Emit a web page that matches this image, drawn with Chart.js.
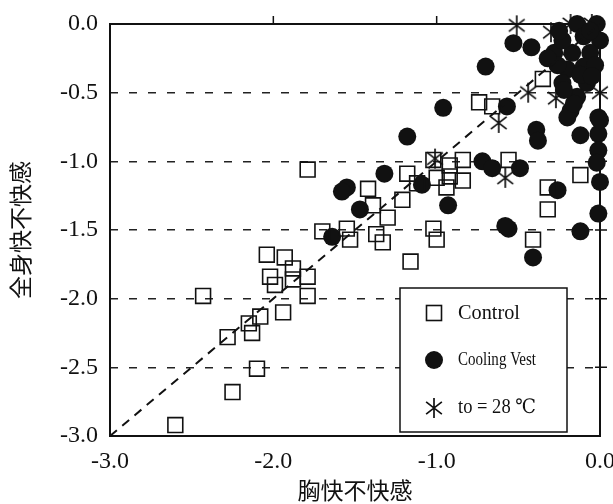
<!DOCTYPE html>
<html lang="ja">
<head>
<meta charset="UTF-8">
<title>胸快不快感と全身快不快感</title>
<script src="https://cdn.jsdelivr.net/npm/chart.js"></script>
<style>
  body { margin: 0; background: #fff; }
</style>
</head>
<body>
<canvas id="chart" width="613" height="504"></canvas>
<script>
// Control (open squares)
const controlX = [-2.60, -2.43, -2.25, -2.10, -2.28, -2.13, -2.15, -2.08, -1.94, -2.04,
                  -1.93, -1.88, -2.02, -1.99, -1.79, -1.79, -1.88, -1.79, -1.42, -1.18,
                  -1.02, -1.00, -1.21, -1.39, -1.30, -1.55, -1.70, -1.53, -1.37, -1.33,
                  -1.02, -1.00, -1.16, -0.94, -0.74, -0.66, -0.92, -0.84, -0.92, -0.84,
                  -0.56, -0.32, -0.32, -0.12, -0.41, -0.35, -1.12];
const controlY = [-2.92, -1.98, -2.68, -2.51, -2.28, -2.25, -2.18, -2.13, -2.10, -1.68,
                  -1.70, -1.78, -1.84, -1.90, -1.84, -1.98, -1.86, -1.06, -1.20, -1.09,
                  -0.99, -1.12, -1.28, -1.32, -1.41, -1.49, -1.51, -1.57, -1.53, -1.59,
                  -1.49, -1.57, -1.73, -1.19, -0.57, -0.60, -1.03, -0.99, -1.11, -1.14,
                  -0.99, -1.19, -1.35, -1.10, -1.57, -0.40, -1.16];

// Cooling Vest (filled circles)
const vestX = [-1.32, -1.55, -1.58, -1.47, -1.64, -1.09, -0.93, -1.18, -0.70, -0.96,
               -0.53, -0.42, -0.57, -0.39, -0.38, -0.12, -0.01, -0.01, -0.01, -0.02,
                0.00, -0.01, -0.12, -0.72, -0.66, -0.49, -0.26, -0.56, -0.58, -0.41,
               -0.14, -0.02, 0.00, -0.28, -0.17, -0.06, -0.20, -0.10, -0.23, -0.08,
               -0.14, -0.18, -0.20, 0.00, -0.10, -0.23, -0.06, -0.12, -0.03, -0.26,
               -0.16, -0.25, -0.32, -0.22, -0.05];
const vestY = [-1.09, -1.19, -1.22, -1.35, -1.55, -1.17, -1.32, -0.82, -0.31, -0.61,
               -0.14, -0.17, -0.60, -0.77, -0.85, -0.81, -0.68, -0.80, -0.92, -1.01,
               -1.15, -1.38, -1.51, -1.00, -1.05, -1.05, -1.21, -1.49, -1.47, -1.70,
                0.00, 0.00, -0.12, -0.21, -0.21, -0.21, -0.33, -0.31, -0.43, -0.43,
               -0.53, -0.63, -0.68, -0.70, -0.09, -0.12, -0.05, -0.37, -0.30, -0.30,
               -0.58, -0.05, -0.25, -0.48, -0.38];

// to = 28 ℃ (asterisks)
const starX = [-0.51, -0.30, -0.18, -0.05, -0.44, -0.27, 0.00, -0.62, -0.58, -1.01];
const starY = [-0.01, -0.06, 0.00, 0.00, -0.50, -0.54, -0.50, -0.72, -1.12, -0.98];

// 1:1 reference line
const diagX = [-3.0, 0.0];
const diagY = [-3.0, 0.0];

const xTicks = [-3.0, -2.0, -1.0, 0.0];
const yTicks = [0.0, -0.5, -1.0, -1.5, -2.0, -2.5, -3.0];
const seriesNames = ['Control', 'Cooling Vest', 'to = 28 ℃'];

const ink = '#111';
const serif = '"Liberation Serif", "DejaVu Serif", serif';

function pts(xs, ys) {
  return xs.map((x, i) => ({ x: x, y: ys[i] }));
}

function fmt(v) {
  if (Math.abs(v) < 1e-9) return '0.0';
  return v.toFixed(1);
}

// asterisk marker: an X with a vertical stroke
function makeStar(size) {
  const c = document.createElement('canvas');
  c.width = size; c.height = size;
  const g = c.getContext('2d');
  const m = size / 2, r = size / 2 - 1;
  g.strokeStyle = ink;
  g.lineWidth = 1.7;
  g.beginPath();
  g.moveTo(m, m - r); g.lineTo(m, m + r);
  const a = 38 * Math.PI / 180;
  g.moveTo(m - r * Math.cos(a), m - r * Math.sin(a));
  g.lineTo(m + r * Math.cos(a), m + r * Math.sin(a));
  g.moveTo(m - r * Math.cos(a), m + r * Math.sin(a));
  g.lineTo(m + r * Math.cos(a), m - r * Math.sin(a));
  g.stroke();
  return c;
}
const starImg = makeStar(22);

// frame, small ticks on top/right
const framePlugin = {
  id: 'frame',
  beforeDatasetsDraw(chart) {
    const { ctx, chartArea: a, scales } = chart;
    ctx.save();
    ctx.strokeStyle = ink;
    ctx.lineWidth = 2;
    ctx.strokeRect(a.left, a.top, a.right - a.left, a.bottom - a.top);
    ctx.lineWidth = 1.5;
    ctx.beginPath();
    xTicks.slice(1, -1).forEach(v => {
      const px = scales.x.getPixelForValue(v);
      ctx.moveTo(px, a.top); ctx.lineTo(px, a.top - 8);
    });
    yTicks.slice(1, -1).forEach(v => {
      const py = scales.y.getPixelForValue(v);
      ctx.moveTo(a.right - 5, py); ctx.lineTo(a.right + 7, py);
    });
    ctx.stroke();
    ctx.restore();
  }
};

function fitText(ctx, text, x, y, font, width) {
  ctx.font = font;
  const w = ctx.measureText(text).width;
  ctx.save();
  ctx.translate(x, y);
  ctx.scale(Math.min(1, width / w), 1);
  ctx.fillText(text, 0, 0);
  ctx.restore();
}

// boxed legend in the lower right
const legendPlugin = {
  id: 'boxLegend',
  afterDatasetsDraw(chart) {
    const { ctx, chartArea: a } = chart;
    const w = 167, h = 144;
    const left = a.right - 33 - w, top = a.bottom - 4 - h;
    ctx.save();
    ctx.fillStyle = '#fff';
    ctx.fillRect(left, top, w, h);
    ctx.strokeStyle = ink;
    ctx.lineWidth = 1.5;
    ctx.strokeRect(left, top, w, h);

    const mx = left + 34, tx = left + 58;
    const rows = [top + 25, top + 72, top + 120];

    ctx.lineWidth = 1.6;
    ctx.strokeRect(mx - 7.5, rows[0] - 7.5, 15, 15);
    ctx.fillStyle = ink;
    ctx.beginPath();
    ctx.arc(mx, rows[1], 9, 0, Math.PI * 2);
    ctx.fill();
    ctx.drawImage(starImg, mx - 11, rows[2] - 11);

    ctx.fillStyle = ink;
    ctx.textBaseline = 'middle';
    ctx.textAlign = 'left';
    fitText(ctx, seriesNames[0], tx, rows[0], '21px ' + serif, 62);
    fitText(ctx, seriesNames[1], tx, rows[1], '19px ' + serif, 78);
    fitText(ctx, seriesNames[2], tx, rows[2], '20px ' + serif, 78);
    ctx.restore();
  }
};

new Chart(document.getElementById('chart'), {
  type: 'scatter',
  data: {
    datasets: [
      {
        label: 'diagonal',
        data: pts(diagX, diagY),
        showLine: true,
        borderColor: ink,
        borderWidth: 2,
        borderDash: [9, 7],
        pointRadius: 0,
        clip: false
      },
      {
        label: seriesNames[0],
        data: pts(controlX, controlY),
        pointStyle: 'rect',
        pointRadius: 10.5,
        borderColor: ink,
        borderWidth: 1.6,
        backgroundColor: 'rgba(255,255,255,0)',
        clip: false
      },
      {
        label: seriesNames[1],
        data: pts(vestX, vestY),
        pointStyle: 'circle',
        pointRadius: 9,
        borderWidth: 0,
        backgroundColor: ink,
        borderColor: ink,
        clip: false
      },
      {
        label: seriesNames[2],
        data: pts(starX, starY),
        pointStyle: starImg,
        pointRadius: 11,
        clip: false
      }
    ]
  },
  options: {
    responsive: false,
    animation: false,
    events: [],
    layout: { padding: { top: 24, right: 13, bottom: 0, left: 0 } },
    plugins: {
      legend: { display: false },
      tooltip: { enabled: false }
    },
    scales: {
      x: {
        type: 'linear',
        min: -3, max: 0,
        afterBuildTicks: s => { s.ticks = xTicks.map(v => ({ value: v })); },
        afterFit: s => { s.height = 68; s.paddingLeft = 0; s.paddingRight = 0; },
        grid: { display: false },
        border: { display: false },
        ticks: {
          color: ink,
          padding: 3,
          maxRotation: 0,
          font: { family: serif, size: 24 },
          callback: v => fmt(v)
        },
        title: {
          display: true,
          text: '胸快不快感',
          color: ink,
          padding: { top: 0, bottom: 0 },
          font: { family: '"Noto Sans CJK JP"', size: 23 }
        }
      },
      y: {
        type: 'linear',
        min: -3, max: 0,
        afterBuildTicks: s => { s.ticks = yTicks.map(v => ({ value: v })); },
        afterFit: s => { s.width = 110; s.paddingTop = 0; s.paddingBottom = 0; },
        grid: {
          drawTicks: false,
          lineWidth: 1.5,
          color: c => (c.tick && (c.tick.value === 0 || c.tick.value === -3)) ? 'rgba(0,0,0,0)' : '#222'
        },
        border: { display: false, dash: [8, 11] },
        ticks: {
          color: ink,
          padding: 12,
          font: { family: serif, size: 24 },
          callback: v => fmt(v)
        },
        title: {
          display: true,
          text: '全身快不快感',
          color: ink,
          padding: { top: 6, bottom: 0 },
          font: { family: '"Noto Sans CJK JP"', size: 23 }
        }
      }
    }
  },
  plugins: [framePlugin, legendPlugin]
});
</script>
</body>
</html>
